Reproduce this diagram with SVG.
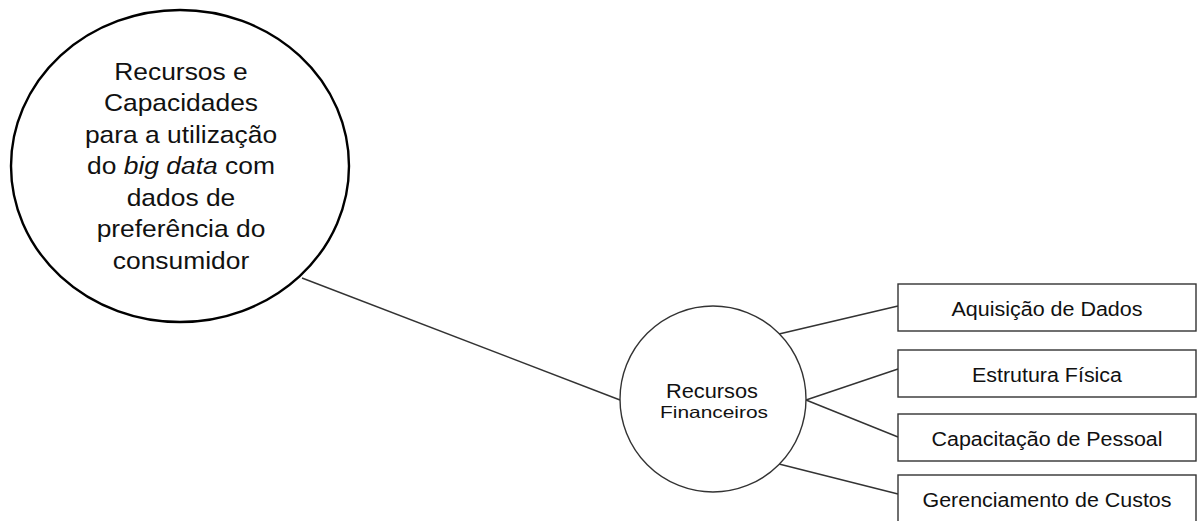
<svg xmlns="http://www.w3.org/2000/svg" width="1197" height="521" viewBox="0 0 1197 521">
<style>
text{font-family:"Liberation Sans",Arial,sans-serif;fill:#111;text-anchor:middle}
.big{font-size:24px}
.box{fill:#fff;stroke:#333;stroke-width:1.4}
.bt{font-size:19.5px}
.conn line{stroke:#333;stroke-width:1.4}
</style>
<rect width="1197" height="521" fill="#fff"/>
<g class="conn">
<line x1="302" y1="278" x2="620" y2="400"/>
<line x1="779" y1="334" x2="898" y2="306"/>
<line x1="806" y1="400" x2="898" y2="369"/>
<line x1="806" y1="400" x2="898" y2="437"/>
<line x1="779" y1="464" x2="898" y2="494"/>
</g>
<g id="main">
<ellipse cx="180" cy="166" rx="169" ry="156" fill="#fff" stroke="#000" stroke-width="2.4"/>
<g transform="translate(181 0) scale(1.1 1) translate(-181 0)">
<text class="big" x="181" y="80">Recursos e</text>
<text class="big" x="181" y="111.5">Capacidades</text>
<text class="big" x="181" y="143">para a utilização</text>
<text class="big" x="181" y="174.5">do <tspan font-style="italic">big data</tspan> com</text>
<text class="big" x="181" y="206">dados de</text>
<text class="big" x="181" y="237.5">preferência do</text>
<text class="big" x="181" y="269">consumidor</text>
</g>
</g>
<g id="fin">
<ellipse cx="713" cy="399" rx="93" ry="93" fill="#fff" stroke="#333" stroke-width="1.4"/>
<text x="712" y="398" font-size="21" textLength="92" lengthAdjust="spacingAndGlyphs">Recursos</text>
<text x="714" y="418" font-size="16.5" textLength="108" lengthAdjust="spacingAndGlyphs">Financeiros</text>
</g>
<g id="b1"><rect class="box" x="898" y="284" width="298" height="47"/><text class="bt" x="1047" y="316" textLength="191" lengthAdjust="spacingAndGlyphs">Aquisição de Dados</text></g>
<g id="b2"><rect class="box" x="898" y="350" width="298" height="47"/><text class="bt" x="1047" y="382" textLength="150" lengthAdjust="spacingAndGlyphs">Estrutura Física</text></g>
<g id="b3"><rect class="box" x="898" y="414" width="298" height="47"/><text class="bt" x="1047" y="446" textLength="231" lengthAdjust="spacingAndGlyphs">Capacitação de Pessoal</text></g>
<g id="b4"><rect class="box" x="898" y="475" width="298" height="48"/><text class="bt" x="1047" y="507" textLength="249" lengthAdjust="spacingAndGlyphs">Gerenciamento de Custos</text></g>
</svg>
